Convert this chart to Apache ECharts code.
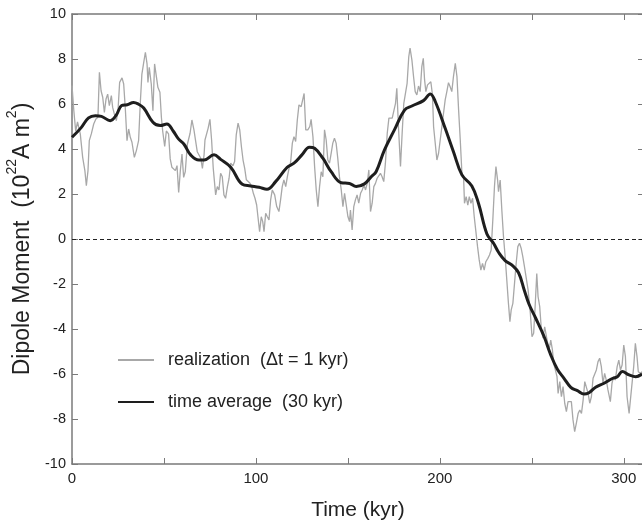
<!DOCTYPE html>
<html>
<head>
<meta charset="utf-8">
<script src="https://cdn.jsdelivr.net/npm/echarts@6/dist/echarts.min.js"></script>
<style>
  html, body { margin: 0; padding: 0; background: #fff; }
  #chart { width: 642px; height: 525px; }
</style>
</head>
<body>
<div id="chart"></div>
<script>
// realization, 1 kyr steps as [time, moment]
var realization = [
  [0,6.82],[1,5.7],[2,4.8],[3,5.2],[4.5,4.67],[5.8,3.63],[7,3.04],[7.8,2.37],[8.7,3.04],[9.4,4.37],
  [10.5,4.67],[11.8,5.11],[13,5.33],[14.1,5.41],[14.9,7.41],[15.8,6.59],[16.7,6.3],[17.6,5.63],[18.5,6.22],[19.4,6.44],
  [20.3,5.93],[21.4,6.37],[22.1,5.85],[23,5.56],[24.1,5.26],[25,5.7],[25.9,6.96],[27.2,7.16],[28.1,6.89],[29,5.78],
  [29.9,4.37],[30.8,4.89],[31.7,4.52],[32.6,4.3],[33.9,3.63],[35,3.93],[36.2,4.37],[37.1,6.0],[38,7.33],[39,7.85],
  [39.9,8.3],[40.8,7.78],[41.3,6.96],[42,7.63],[43.1,6.89],[44,5.7],[44.9,7.78],[45.8,7.7],[46.7,6.74],[47.8,6.52],
  [48.6,5.41],[49.3,4.8],[50.4,4.11],[51.3,4.8],[52.5,4.67],[53.4,3.56],[54.3,3.19],[55.3,3.19],[56.2,3.04],[57.1,3.26],
  [58,2.07],[58.9,3.04],[59.8,3.78],[60.7,2.74],[61.6,3.0],[62.7,4.2],[64.2,4.7],[65.2,5.29],[66.3,4.85],[67.2,4.77],
  [68.1,3.88],[69.1,3.84],[70,3.59],[70.9,3.14],[71.8,3.74],[72.3,4.4],[73.2,4.48],[74,4.92],[75,5.32],[75.9,4.4],
  [76.8,3.14],[78.1,1.96],[79,2.33],[79.9,2.18],[80.8,2.92],[81.7,2.77],[82.6,1.96],[83.5,1.81],[84.5,2.33],[85.4,2.7],
  [86.3,3.37],[87.5,3.25],[88.4,3.44],[89.3,4.63],[90.3,5.15],[91.2,4.85],[92.1,4.11],[93,3.51],[93.9,3.14],[94.8,2.63],
  [95.7,2.55],[96.8,2.48],[97.7,2.33],[98.6,2.03],[99.5,1.81],[100.4,1.51],[101.1,0.99],[102,0.33],[102.9,0.99],[103.7,0.77],
  [104.4,0.33],[105.3,1.14],[106.2,0.99],[107.1,0.85],[108,1.74],[108.9,2.18],[110.2,1.96],[111.3,1.44],[112.5,1.22],[113.4,1.74],
  [114.3,2.33],[115.2,2.63],[116.2,2.33],[117.1,2.77],[118,3.14],[118.9,3.44],[119.8,4.26],[120.7,4.55],[121.6,4.33],[122.5,5.29],
  [123.4,5.96],[124.6,5.88],[125.5,5.81],[126.2,6.47],[127.1,4.85],[128.2,4.85],[129.3,5.0],[130,5.32],[131,4.55],[131.9,3.22],
  [132.8,2.18],[133.7,1.44],[134.6,2.33],[135.5,2.99],[136.4,2.77],[137.3,4.85],[138.2,4.4],[139.1,3.51],[140,3.37],[140.9,3.81],
  [141.8,4.26],[142.7,4.48],[143.6,4.26],[144.5,3.59],[145.4,2.77],[146.4,2.18],[147.3,1.44],[148.2,2.03],[149.1,2.1],[150,1.0],
  [150.9,0.77],[151.4,1.29],[152.3,0.4],[153.2,1.44],[154.1,1.74],[155,1.96],[155.9,1.59],[156.9,2.03],[157.8,2.18],[158.7,2.4],
  [159.6,2.18],[160.5,2.47],[161.4,3.07],[162.3,1.22],[163.2,1.59],[164.1,2.33],[165,2.47],[165.9,2.7],[166.8,2.62],[167.7,2.92],
  [168.6,2.77],[169.5,2.55],[170.4,3.37],[171.4,4.7],[172.3,5.37],[173.2,5.29],[174.1,5.37],[175,5.44],[175.9,6.03],[176.6,6.7],
  [177.5,4.99],[178.6,3.22],[179.5,4.7],[180.4,6.03],[181.3,5.96],[182.2,6.92],[183.1,8.1],[183.8,8.48],[184.8,7.96],[185.7,7.22],
  [186.6,6.55],[187.5,6.4],[188.4,6.8],[189.3,6.55],[190.2,7.66],[191,8.03],[191.7,7.07],[192.4,6.55],[193.3,6.85],[194.2,6.92],
  [195.1,6.99],[196,6.4],[196.6,4.99],[197.5,4.92],[198.4,3.51],[199.3,3.81],[200.2,4.4],[201.1,4.99],[202,5.59],[202.9,6.18],
  [203.8,6.55],[204.7,6.95],[205.6,6.77],[206.5,6.55],[207.4,7.22],[208.4,7.81],[209.3,7.22],[210.2,5.73],[211.1,4.4],[212,2.92],
  [212.9,2.77],[213.4,1.59],[214.3,1.88],[215.2,1.51],[216,1.88],[216.9,1.59],[217.8,1.81],[218.7,0.99],[219.6,0.33],[220.5,-0.34],
  [221.4,-0.93],[222.3,-1.38],[223.2,-1.08],[224.1,-1.38],[225,-1.01],[226.1,-0.86],[227,-0.71],[227.9,-0.49],[228.8,0.85],[229.7,2.33],
  [230.5,3.22],[231.4,2.62],[231.9,2.1],[232.8,2.62],[233.7,1.29],[234.6,0.11],[235.5,-0.78],[236.4,-1.82],[237.3,-2.86],[238.1,-3.67],
  [238.8,-3.15],[239.7,-2.86],[240.6,-1.97],[241.5,-1.08],[242.4,-0.34],[243.3,-0.19],[244.2,-0.41],[245.1,-0.78],[246,-1.23],[246.9,-1.23],
  [248,-2.27],[249.2,-3.3],[250.1,-4.34],[251,-4.19],[251.9,-2.86],[252.7,-1.53],[253.4,-2.56],[254.3,-3.0],[255.2,-4.04],[256.1,-4.41],
  [257,-3.9],[258.3,-4.49],[259.4,-4.93],[260.3,-4.49],[261.2,-4.93],[261.9,-5.53],[262.8,-5.82],[263.7,-6.12],[264.3,-6.86],[265.2,-6.34],
  [266.1,-7.01],[267,-6.56],[267.9,-7.3],[268.8,-7.67],[269.7,-7.23],[270.6,-7.3],[271.5,-7.23],[272.4,-8.04],[273.3,-8.56],[274.2,-8.19],
  [275.2,-7.75],[276.1,-7.6],[277,-7.75],[277.9,-7.16],[278.8,-6.34],[279.7,-6.41],[280.6,-6.86],[281.5,-7.3],[282.4,-7.01],[283.3,-6.19],
  [284.2,-6.12],[285.1,-5.82],[286,-5.45],[286.9,-5.3],[287.8,-5.67],[288.7,-6.41],[289.6,-5.97],[290.5,-6.27],[291.4,-6.71],[292.7,-7.23],
  [293.6,-6.41],[294.5,-6.12],[295.4,-6.27],[296.4,-5.67],[297.3,-5.38],[298.2,-5.82],[299.1,-5.6],[300,-4.71],[300.9,-5.23],[301.8,-7.01],
  [302.9,-7.75],[303.6,-7.16],[304.5,-7.08],[305.4,-5.67],[306.3,-4.64],[307.2,-5.23],[307.9,-5.9],[309,-5.97],[310,-5.9]
];

// 30 kyr running average
var timeAverage = [
  [0,4.52],[5,4.95],[9,5.38],[12.7,5.48],[16,5.45],[20.8,5.26],[24,5.5],[27,5.93],[30,5.97],[33.5,6.07],
  [36,6.0],[39,5.82],[44,5.19],[48,5.04],[51.6,5.11],[55,4.8],[58,4.44],[61,4.2],[64.5,3.74],[69,3.51],
  [71.8,3.51],[77.2,3.74],[80.8,3.54],[86.3,3.19],[92.6,2.43],[97.1,2.36],[101.7,2.3],[106,2.21],[110.7,2.55],[117,3.19],
  [120.7,3.37],[125,3.74],[129.1,4.08],[131.9,4.03],[136.4,3.59],[140.9,2.99],[146.4,2.5],[150.9,2.47],[154.5,2.33],[159,2.45],
  [162.7,2.77],[165.4,3.0],[169.9,3.96],[175.3,4.85],[180.8,5.73],[184.8,5.91],[191.1,6.15],[194.8,6.45],[197.5,6.11],[202.9,4.92],
  [207.4,3.88],[212,2.85],[217.4,2.36],[221,1.59],[225.6,0.22],[229.2,-0.19],[232,-0.6],[235.5,-0.96],[239.1,-1.15],[242.8,-1.5],
  [246,-2.3],[248.5,-2.9],[252,-3.5],[256.5,-4.3],[260.3,-5.15],[263.9,-5.79],[267.5,-6.19],[271.2,-6.59],[274.8,-6.74],[278.4,-6.89],
  [281.1,-6.83],[284.7,-6.59],[289.3,-6.41],[293.8,-6.2],[296.5,-6.12],[299.2,-5.89],[302.9,-6.04],[306.5,-6.12],[310,-6.0]
];

var seriesNames = ['realization  (\u0394t = 1 kyr)', 'time average  (30 kyr)'];
var yTicks = [-10, 10, 2];   // min, max, step
var xTicks = [0, 311, 50];

var font = 'Liberation Sans, Arial, Helvetica, sans-serif';
var frame = '#7a7a7a';

var chart = echarts.init(document.getElementById('chart'));

function frameAxis(extra) {
    var a = {
        type: 'value',
        axisLine: { show: true, onZero: false, lineStyle: { color: frame, width: 1.5 } },
        axisTick: { show: true, inside: true, length: 6, lineStyle: { color: frame } },
        axisLabel: { show: false },
        splitLine: { show: false }
    };
    for (var k in extra) a[k] = extra[k];
    return a;
}

var option = {
    animation: false,
    backgroundColor: '#fff',
    grid: {
        left: 72,
        right: -2,
        top: 14,
        bottom: 61,
        containLabel: false,
        outerBoundsMode: 'none'
    },
    legend: {
        orient: 'vertical',
        left: 112,
        top: 346,
        itemWidth: 36,
        itemHeight: 14,
        itemGap: 24,
        itemStyle: { color: 'transparent', borderColor: 'transparent', borderWidth: 0, opacity: 0 },
        textStyle: {
            fontFamily: font,
            fontSize: 18,
            color: '#222',
            padding: [0, 0, 0, 9]
        },
        data: seriesNames
    },
    xAxis: [
        frameAxis({
            min: xTicks[0], max: xTicks[1], interval: xTicks[2],
            name: 'Time (kyr)',
            nameLocation: 'middle',
            nameGap: 36,
            nameTextStyle: { fontFamily: font, fontSize: 21, color: '#222' },
            axisLabel: {
                show: true,
                fontFamily: font,
                fontSize: 15,
                color: '#222',
                margin: 7,
                formatter: function (v) { return v % 100 === 0 ? String(v) : ''; }
            }
        }),
        frameAxis({ position: 'top', min: xTicks[0], max: xTicks[1], interval: xTicks[2] })
    ],
    yAxis: [
        frameAxis({
            min: yTicks[0], max: yTicks[1], interval: yTicks[2],
            name: 'Dipole Moment  (10{sup|22}A m{sup|2})',
            nameLocation: 'middle',
            nameRotate: 90,
            nameGap: 27,
            nameTextStyle: {
                fontFamily: font,
                fontSize: 23,
                color: '#222',
                rich: {
                    sup: { fontFamily: font, fontSize: 14, color: '#222', padding: [0, 0, 22, 0] }
                }
            },
            axisLabel: { show: true, fontFamily: font, fontSize: 14.5, color: '#222', margin: 6 }
        }),
        frameAxis({ position: 'right', min: yTicks[0], max: yTicks[1], interval: yTicks[2] })
    ],
    series: [{
        name: seriesNames[0],
        type: 'line',
        data: realization,
        symbol: 'none',
        showSymbol: false,
        lineStyle: { color: '#a8a8a8', width: 1.3 },
        itemStyle: { color: '#a8a8a8' },
        z: 2,
        markLine: {
            silent: true,
            symbol: 'none',
            label: { show: false },
            lineStyle: { color: '#222', width: 1, type: [4, 3] },
            data: [{ yAxis: 0 }]
        }
    }, {
        name: seriesNames[1],
        type: 'line',
        data: timeAverage,
        symbol: 'none',
        showSymbol: false,
        smooth: 0.4,
        lineStyle: { color: '#1e1e1e', width: 3 },
        itemStyle: { color: '#1e1e1e' },
        z: 3
    }]
};

chart.setOption(option);
</script>
</body>
</html>
